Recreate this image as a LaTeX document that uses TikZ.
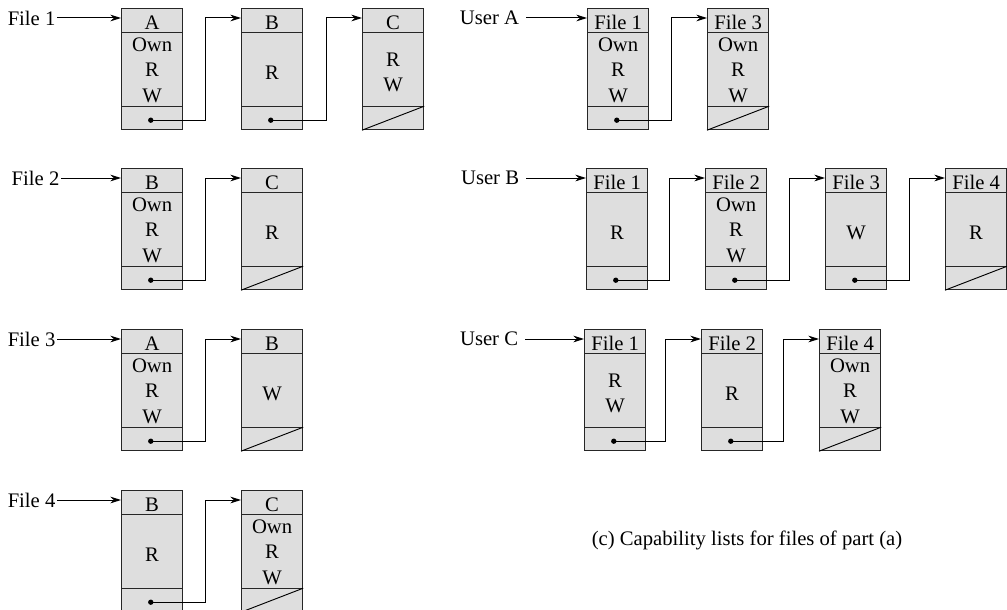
\documentclass[tikz,border=0pt]{standalone}
\usepackage{fontspec}
\setmainfont{Liberation Serif}
\usepackage{xcolor}
\usepackage{tikz}
\usetikzlibrary{arrows.meta,positioning,calc}

\tikzset{
  cellbox/.style={draw=black!85,line width=0.9pt,fill=black!13,minimum width=45.75pt,minimum height=90.75pt,inner sep=0pt},
  bodytext/.style={align=center,inner sep=0pt},
  link/.style={line width=0.75pt,-{Stealth[length=8pt,width=5pt]}},
  filelabel/.style={anchor=east,inner sep=1pt},
  userlabel/.style={anchor=east,inner xsep=5pt,inner ysep=1pt}
}

% one cell of a list: name, top left corner, header, body
\newcommand{\capbox}[5][-2.5pt]{%
  \node[cellbox,anchor=north west] (#2) at (#3) {};
  \draw[line width=0.7pt,black!85] ([yshift=-18pt]#2.north west) -- ([yshift=-18pt]#2.north east);
  \draw[line width=0.7pt,black!85] ([yshift=18pt]#2.south west) -- ([yshift=18pt]#2.south east);
  \node[anchor=base] (#2-h) at ([yshift=-16pt]#2.north) {#4};
  \node[bodytext,yshift=#1] (#2-b) at (#2.center) {#5};
  \coordinate (#2-in) at ([yshift=-7.5pt]#2.north west);
  \coordinate (#2-p) at ([yshift=7.5pt]#2.south);
}
\newcommand{\nullptr}[1]{\draw[line width=0.7pt] (#1.south west) -- ([yshift=18pt]#1.south east);}
\newcommand{\nextbox}[2]{%
  \fill ([xshift=-1pt]#1-p) circle (2pt);
  \draw[link] ([xshift=-1pt]#1-p) -| ([xshift=-27pt]#2-in) -- (#2-in);
}

\begin{document}
\begin{tikzpicture}[x=0.75pt,y=-0.75pt,font=\fontsize{15.5}{19}\selectfont]
\useasboundingbox (0,0) rectangle (1007,610);

% access lists, one per file
\capbox[-0.75pt]{f1a}{121,8}{A}{Own\\R\\W}
\capbox{f1b}{241,8}{B}{R}
\capbox{f1c}{362,8}{C}{R\\W}
\nullptr{f1c}
\nextbox{f1a}{f1b}
\nextbox{f1b}{f1c}
\node[filelabel] (lf1) at ([xshift=-48pt]f1a-in) {File 1};
\draw[link] (lf1) -- (f1a-in);

\capbox[-0.75pt]{f2b}{121,168}{B}{Own\\R\\W}
\capbox{f2c}{241,168}{C}{R}
\nullptr{f2c}
\nextbox{f2b}{f2c}
\node[filelabel] (lf2) at ([xshift=-45pt]f2b-in) {File 2};
\draw[link] (lf2) -- (f2b-in);

\capbox[-0.75pt]{f3a}{121,329}{A}{Own\\R\\W}
\capbox{f3b}{241,329}{B}{W}
\nullptr{f3b}
\nextbox{f3a}{f3b}
\node[filelabel] (lf3) at ([xshift=-48pt]f3a-in) {File 3};
\draw[link] (lf3) -- (f3a-in);

\capbox{f4b}{121,490}{B}{R}
\capbox[-0.75pt]{f4c}{241,490}{C}{Own\\R\\W}
\nullptr{f4c}
\nextbox{f4b}{f4c}
\node[filelabel] (lf4) at ([xshift=-48pt]f4b-in) {File 4};
\draw[link] (lf4) -- (f4b-in);

% capability lists, one per user
\capbox[-0.75pt]{ua1}{587,8}{File 1}{Own\\R\\W}
\capbox[-0.75pt]{ua3}{707,8}{File 3}{Own\\R\\W}
\nullptr{ua3}
\nextbox{ua1}{ua3}
\node[userlabel] (lua) at ([xshift=-45.75pt]ua1-in) {User A};
\draw[link] (lua) -- (ua1-in);

\capbox{ub1}{586,168}{File 1}{R}
\capbox[-0.75pt]{ub2}{705,168}{File 2}{Own\\R\\W}
\capbox{ub3}{825,168}{File 3}{W}
\capbox{ub4}{945,168}{File 4}{R}
\nullptr{ub4}
\nextbox{ub1}{ub2}
\nextbox{ub2}{ub3}
\nextbox{ub3}{ub4}
\node[userlabel] (lub) at ([xshift=-45pt]ub1-in) {User B};
\draw[link] (lub) -- (ub1-in);

\capbox{uc1}{584,329}{File 1}{R\\W}
\capbox{uc2}{701,329}{File 2}{R}
\capbox[-0.75pt]{uc4}{819,329}{File 4}{Own\\R\\W}
\nullptr{uc4}
\nextbox{uc1}{uc2}
\nextbox{uc2}{uc4}
\node[userlabel] (luc) at ([xshift=-44.25pt]uc1-in) {User C};
\draw[link] (luc) -- (uc1-in);

\node (cap) at (747,540) {(c) Capability lists for files of part (a)};
\end{tikzpicture}
\end{document}
